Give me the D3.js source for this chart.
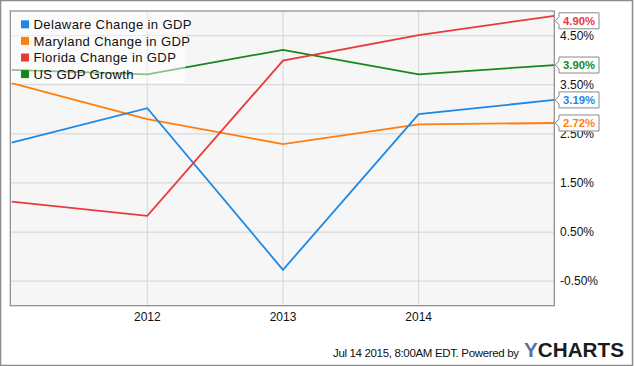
<!DOCTYPE html>
<html><head><meta charset="utf-8">
<script src="https://cdn.jsdelivr.net/npm/d3@7"></script>
<style>body{margin:0;background:#fff}svg{display:block;font-family:"Liberation Sans",Arial,sans-serif}</style>
</head><body><svg id="c" width="635" height="366"></svg>
<script>
const years = [2011, 2012, 2013, 2014, 2015];
const xTickYears = [2012, 2013, 2014];
const yTicks = [-0.5, 0.5, 1.5, 2.5, 3.5, 4.5];
const seriesNames = ["Delaware Change in GDP", "Maryland Change in GDP", "Florida Change in GDP", "US GDP Growth"];
const seriesColors = ["#1e88e5", "#ff7f0e", "#e8393d", "#17871a"];
const delaware = [2.32, 3.02, -0.27, 2.90, 3.19];
const maryland = [3.53, 2.80, 2.29, 2.69, 2.72];
const florida = [1.12, 0.83, 3.99, 4.51, 4.90];
const usGdp = [3.80, 3.71, 4.21, 3.71, 3.90];
const allValues = [delaware, maryland, florida, usGdp];

const svg = d3.select("#c");
const L = 10.3, R = 554.3, T = 11, B = 305.7;
const x = d3.scaleLinear().domain([2010.99, 2015]).range([L, R]);
const y = d3.scaleLinear().domain([-1, 5]).range([B, T]);
const pct = d => d3.format(".2f")(d).replace("\u2212", "-") + "%";

svg.append("rect").attr("x",0.5).attr("y",0.5).attr("width",632).attr("height",365)
  .attr("fill","#fff").attr("stroke","#8c8c8c").attr("stroke-width",1.5);

svg.append("rect").attr("x",L).attr("y",T).attr("width",R-L).attr("height",B-T).attr("fill","#f6f6f6");

svg.append("g").selectAll("line").data(yTicks).join("line")
  .attr("x1",L).attr("x2",R).attr("y1",d=>y(d)).attr("y2",d=>y(d))
  .attr("stroke","#d9d9d9").attr("stroke-width",1.2);
svg.append("g").selectAll("line").data(xTickYears).join("line")
  .attr("y1",T).attr("y2",B).attr("x1",d=>x(d)).attr("x2",d=>x(d))
  .attr("stroke","#d9d9d9").attr("stroke-width",1.2);

svg.append("clipPath").attr("id","pc").append("rect").attr("x",L).attr("y",T).attr("width",R-L).attr("height",B-T);

const line = d3.line().x((d,i)=>x(years[i])).y(d=>y(d));
const lg = svg.append("g").attr("clip-path","url(#pc)");
[3,1,0,2].forEach(k=>{
  lg.append("path").attr("d", line(allValues[k])).attr("fill","none")
    .attr("stroke", seriesColors[k]).attr("stroke-width",1.8).attr("stroke-linejoin","miter");
});

svg.append("rect").attr("x",L).attr("y",T).attr("width",175).attr("height",72)
  .attr("fill","#fff").attr("fill-opacity",0.5);
const leg = svg.append("g");
seriesNames.forEach((n,i)=>{
  const cy = 24.3 + i*16.6;
  leg.append("rect").attr("x",21).attr("y",cy-4).attr("width",8).attr("height",8).attr("fill",seriesColors[i]);
  leg.append("text").attr("x",33.5).attr("y",cy+4.6).attr("font-size",13.1).attr("letter-spacing",0.35)
    .attr("fill","#111").text(n);
});

svg.append("rect").attr("x",L).attr("y",T).attr("width",R-L).attr("height",B-T)
  .attr("fill","none").attr("stroke","#8a8a8a").attr("stroke-width",1.2);

svg.append("g").selectAll("text").data(yTicks).join("text")
  .attr("x",560).attr("y",d=>y(d)+4.3).attr("font-size",12).attr("fill","#111")
  .text(pct);

svg.append("g").selectAll("text").data(xTickYears).join("text")
  .attr("x",d=>x(d)).attr("y",321).attr("text-anchor","middle").attr("font-size",12).attr("fill","#111")
  .text(d=>d);

allValues.forEach((vals,k)=>{
  const v = vals[vals.length-1];
  let cy = y(v);
  const h = 16;
  if (cy - h/2 < T) cy = T + h/2 + 1.8;
  const x0 = 559, w = 40;
  const g = svg.append("g");
  const p = `M${x0},${cy-h/2} L${x0+w},${cy-h/2} L${x0+w},${cy+h/2} L${x0},${cy+h/2} L${x0},${cy+4} L${R+1},${cy} L${x0},${cy-4} Z`;
  g.append("path").attr("d",p).attr("fill","#fff").attr("stroke","#8a8a8a").attr("stroke-width",1);
  g.append("text").attr("x",x0+w/2).attr("y",cy+4).attr("text-anchor","middle")
    .attr("font-size",11.3).attr("font-weight","bold").attr("fill",seriesColors[k])
    .text(pct(v));
});

svg.append("text").attr("x",519).attr("y",357).attr("text-anchor","end").attr("font-size",11.5)
  .attr("fill","#111").attr("textLength",186).text("Jul 14 2015, 8:00AM EDT.  Powered by");
const logo = svg.append("text").attr("x",524).attr("y",357).attr("font-size",20).attr("font-weight","bold")
  .attr("textLength",100).attr("lengthAdjust","spacingAndGlyphs");
logo.append("tspan").attr("fill","#5b6fa6").text("Y");
logo.append("tspan").attr("fill","#1c1c1c").text("CHARTS");
</script></body></html>
